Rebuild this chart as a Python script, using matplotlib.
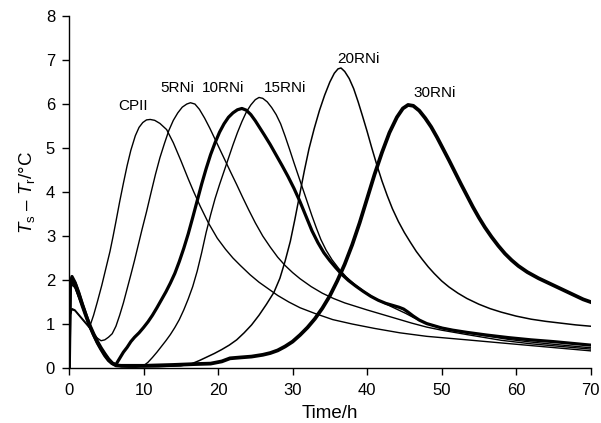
import matplotlib
matplotlib.use("Agg")
import matplotlib.pyplot as plt

plt.rcParams['font.family'] = ['Liberation Sans', 'DejaVu Sans']
plt.rcParams['mathtext.fontset'] = 'custom'
plt.rcParams['mathtext.rm'] = 'Liberation Sans'
plt.rcParams['mathtext.it'] = 'Liberation Sans:italic'

# Temperature difference Ts - Tr (°C) versus hydration time (h)
cpii_t = [0.0, 0.15, 0.4, 0.8, 1.3, 1.8, 2.3, 2.8, 3.3, 3.8, 4.4, 5.0, 5.5, 5.9, 6.3, 6.8,
          7.3, 7.8, 8.3, 8.9, 9.4, 9.9, 10.4, 10.9, 11.5, 12.2, 13.1, 14.0, 15.0, 16.0, 16.7,
          17.6, 18.7, 19.9, 21.0, 22.0, 23.0, 24.3, 25.5, 26.5, 28.0, 29.5, 31.0, 33.0, 35.4,
          38.0, 41.0, 44.4, 48.0, 53.4, 58.0, 62.0, 66.0, 70.0]
cpii_y = [0.0, 1.2, 1.35, 1.32, 1.22, 1.12, 1.02, 0.95, 1.2, 1.5, 1.88, 2.3, 2.65, 2.98,
          3.33, 3.78, 4.2, 4.6, 4.95, 5.28, 5.47, 5.58, 5.64, 5.65, 5.63, 5.56, 5.42, 5.12,
          4.72, 4.3, 4.02, 3.68, 3.3, 2.95, 2.7, 2.5, 2.33, 2.12, 1.95, 1.83, 1.65, 1.5, 1.37,
          1.24, 1.1, 1.0, 0.9, 0.8, 0.72, 0.64, 0.57, 0.51, 0.45, 0.39]

rni5_t = [0.0, 0.15, 0.4, 0.8, 1.3, 1.8, 2.3, 2.8, 3.3, 3.8, 4.3, 4.8, 5.3, 5.8, 6.3, 6.8,
          7.3, 7.8, 8.3, 8.8, 9.3, 9.8, 10.4, 11.0, 11.6, 12.2, 12.8, 13.4, 14.0, 14.6, 15.2,
          15.8, 16.3, 16.9, 17.5, 18.2, 18.9, 19.6, 20.3, 21.0, 21.7, 22.5, 23.3, 24.1, 25.0,
          26.0, 27.0, 28.0, 29.0, 30.0, 31.0, 32.5, 34.0, 35.5, 37.0, 38.5, 40.0, 42.0, 44.4,
          46.0, 48.0, 50.0, 53.4, 58.0, 62.0, 66.0, 70.0]
rni5_y = [0.0, 1.2, 1.33, 1.3, 1.2, 1.1, 1.0, 0.9, 0.78, 0.68, 0.62, 0.64, 0.7, 0.78, 0.95,
          1.2, 1.48, 1.8, 2.12, 2.45, 2.8, 3.15, 3.55, 3.98, 4.4, 4.78, 5.1, 5.4, 5.63, 5.8,
          5.93, 6.0, 6.03, 6.0, 5.88, 5.68, 5.45, 5.2, 4.95, 4.7, 4.45, 4.17, 3.88, 3.6, 3.3,
          3.0, 2.75, 2.52, 2.33, 2.17, 2.03, 1.85, 1.7, 1.58, 1.48, 1.4, 1.32, 1.22, 1.1,
          1.02, 0.93, 0.86, 0.76, 0.63, 0.55, 0.49, 0.43]

rni10_t = [0.0, 0.15, 0.4, 0.8, 1.3, 1.8, 2.3, 2.8, 3.3, 3.8, 4.3, 4.8, 5.3, 5.8, 6.3, 6.8,
           7.3, 7.8, 8.3, 8.8, 9.4, 10.0, 10.6, 11.2, 11.8, 12.4, 13.0, 13.6, 14.2, 14.8, 15.4,
           16.0, 16.6, 17.2, 17.8, 18.4, 19.0, 19.6, 20.2, 20.8, 21.4, 22.0, 22.6, 23.2, 23.8,
           24.4, 25.0, 25.6, 26.2, 27.0, 27.8, 28.6, 29.4, 30.2, 31.0, 31.8, 32.6, 33.4, 34.2,
           35.0, 35.8, 36.6, 37.5, 38.5, 39.5, 40.5, 41.5, 42.5, 43.5, 44.3, 44.9, 45.5, 46.2,
           47.0, 48.0, 49.0, 50.0, 51.5, 53.4, 56.0, 59.0, 62.0, 65.0, 67.5, 70.0]
rni10_y = [0.0, 1.9, 2.08, 1.95, 1.72, 1.45, 1.2, 0.95, 0.75, 0.57, 0.42, 0.28, 0.17, 0.1,
           0.08, 0.22, 0.36, 0.47, 0.6, 0.7, 0.8, 0.92, 1.05, 1.2, 1.37, 1.55, 1.73, 1.93,
           2.15, 2.42, 2.72, 3.05, 3.42, 3.8, 4.18, 4.53, 4.85, 5.12, 5.36, 5.55, 5.7, 5.8,
           5.87, 5.9, 5.86, 5.76, 5.62, 5.46, 5.3, 5.08, 4.84, 4.6, 4.35, 4.08, 3.78, 3.45,
           3.12, 2.85, 2.62, 2.44, 2.28, 2.13, 1.99, 1.86, 1.74, 1.63, 1.54, 1.47, 1.42, 1.38,
           1.34, 1.27, 1.18, 1.09, 1.01, 0.96, 0.91, 0.86, 0.81, 0.75, 0.69, 0.64, 0.6, 0.56,
           0.52]

rni15_t = [0.0, 0.15, 0.4, 0.8, 1.3, 1.8, 2.3, 2.8, 3.3, 3.8, 4.3, 4.8, 5.3, 5.8, 6.3, 7.0,
           8.0, 9.0, 10.0, 10.6, 11.2, 11.8, 12.4, 13.0, 13.6, 14.2, 14.8, 15.4, 16.0, 16.6,
           17.2, 17.8, 18.4, 19.0, 19.6, 20.2, 20.8, 21.4, 22.0, 22.6, 23.2, 23.8, 24.4, 25.0,
           25.5, 26.0, 26.6, 27.2, 27.8, 28.4, 29.0, 29.6, 30.2, 30.8, 31.4, 32.0, 32.6, 33.2,
           33.8, 34.5, 35.3, 36.2, 37.2, 38.2, 39.2, 40.2, 41.2, 42.2, 43.2, 44.2, 45.2, 46.2,
           47.2, 48.2, 49.5, 51.0, 53.4, 56.0, 59.0, 62.0, 65.0, 67.5, 70.0]
rni15_y = [0.0, 1.7, 1.9, 1.82, 1.6, 1.38, 1.15, 0.95, 0.77, 0.6, 0.45, 0.32, 0.2, 0.11,
           0.06, 0.03, 0.02, 0.02, 0.05, 0.13, 0.24, 0.36, 0.49, 0.62, 0.76, 0.92, 1.1, 1.32,
           1.57, 1.85, 2.2, 2.62, 3.08, 3.48, 3.85, 4.17, 4.47, 4.77, 5.07, 5.35, 5.6, 5.82,
           5.98, 6.1, 6.15, 6.13, 6.05, 5.92, 5.76, 5.55, 5.27, 4.97, 4.66, 4.36, 4.06, 3.76,
           3.46, 3.18, 2.92, 2.68, 2.46, 2.26, 2.07, 1.92, 1.79, 1.67, 1.57, 1.48, 1.4, 1.32,
           1.24, 1.15, 1.07, 1.0, 0.94, 0.88, 0.8, 0.73, 0.65, 0.59, 0.54, 0.5, 0.46]

rni20_t = [0.0, 0.15, 0.4, 0.8, 1.3, 1.8, 2.3, 2.8, 3.3, 3.8, 4.3, 4.8, 5.3, 5.8, 6.3, 7.0,
           9.0, 12.0, 15.0, 16.5, 17.5, 18.5, 19.5, 20.5, 21.5, 22.5, 23.5, 24.5, 25.5, 26.5,
           27.5, 28.3, 29.0, 29.7, 30.3, 31.0, 31.6, 32.2, 32.9, 33.6, 34.3, 35.0, 35.6, 36.1,
           36.5, 37.0, 37.6, 38.2, 38.8, 39.4, 40.0, 40.6, 41.3, 42.0, 42.7, 43.4, 44.2, 45.0,
           45.8, 46.6, 47.4, 48.2, 49.0, 50.0, 51.0, 52.2, 53.4, 55.0, 56.5, 58.0, 60.0, 62.0,
           64.0, 66.0, 68.0, 70.0]
rni20_y = [0.0, 1.8, 1.95, 1.85, 1.62, 1.4, 1.17, 0.97, 0.78, 0.62, 0.47, 0.34, 0.22, 0.13,
           0.07, 0.04, 0.03, 0.03, 0.05, 0.1, 0.17, 0.25, 0.33, 0.42, 0.52, 0.64, 0.8, 0.98,
           1.2, 1.45, 1.72, 2.04, 2.43, 2.88, 3.37, 3.98, 4.5, 4.98, 5.44, 5.85, 6.2, 6.5, 6.7,
           6.8, 6.82, 6.74, 6.58, 6.35, 6.05, 5.72, 5.38, 5.02, 4.62, 4.25, 3.92, 3.62, 3.33,
           3.08, 2.86, 2.65, 2.47, 2.3, 2.15, 1.98, 1.84, 1.7, 1.58, 1.45, 1.35, 1.27, 1.18,
           1.11, 1.06, 1.02, 0.98, 0.95]

rni30_t = [0.0, 0.15, 0.4, 0.8, 1.3, 1.8, 2.3, 2.8, 3.3, 3.8, 4.3, 4.8, 5.3, 5.8, 6.3, 7.0,
           10.0, 14.0, 17.0, 19.0, 20.5, 21.6, 23.0, 24.5, 26.0, 27.0, 28.0, 29.0, 30.0, 31.0,
           32.0, 33.0, 34.0, 35.0, 36.0, 37.0, 38.0, 39.0, 40.0, 41.0, 42.0, 43.0, 44.0, 44.8,
           45.5, 46.2, 47.0, 47.8, 48.6, 49.4, 50.2, 51.0, 51.8, 52.6, 53.4, 54.2, 55.0, 55.8,
           56.7, 57.6, 58.5, 59.4, 60.3, 61.5, 63.0, 64.5, 66.0, 67.5, 69.0, 70.0]
rni30_y = [0.0, 1.85, 2.02, 1.92, 1.68, 1.42, 1.18, 0.96, 0.77, 0.6, 0.45, 0.32, 0.2, 0.11,
           0.06, 0.05, 0.05, 0.07, 0.09, 0.1, 0.15, 0.22, 0.24, 0.26, 0.3, 0.34, 0.4, 0.49,
           0.6, 0.75, 0.92, 1.12, 1.36, 1.64, 1.98, 2.36, 2.8, 3.3, 3.85, 4.4, 4.9, 5.35, 5.7,
           5.9, 5.98, 5.96, 5.85, 5.68, 5.48, 5.24, 4.98, 4.72, 4.45, 4.18, 3.92, 3.66, 3.42,
           3.2, 2.98, 2.78, 2.6, 2.45, 2.32, 2.18, 2.04, 1.92, 1.8, 1.68, 1.56, 1.5]

series = [
    ("CPII", cpii_t, cpii_y, 1.0),
    ("5RNi", rni5_t, rni5_y, 1.0),
    ("10RNi", rni10_t, rni10_y, 2.3),
    ("15RNi", rni15_t, rni15_y, 1.0),
    ("20RNi", rni20_t, rni20_y, 1.1),
    ("30RNi", rni30_t, rni30_y, 2.7),
]

label_names = ["CPII", "5RNi", "10RNi", "15RNi", "20RNi", "30RNi"]
label_x = [8.6, 14.5, 20.7, 29.0, 38.9, 49.1]
label_y = [5.95, 6.36, 6.36, 6.36, 7.02, 6.25]

fig = plt.figure(figsize=(6.01, 4.23), dpi=100)
ax = fig.add_axes([0.1148, 0.130, 0.868, 0.832])

for name, t, y, lw in series:
    ax.plot(t, y, color='black', lw=lw, solid_joinstyle='round')

for name, lx, ly in zip(label_names, label_x, label_y):
    ax.text(lx, ly, name, ha='center', va='center', fontsize=11)

ax.set_xlim(0, 70)
ax.set_ylim(0, 8)
ax.set_xticks(range(0, 71, 10))
ax.set_yticks(range(0, 9))
ax.spines['top'].set_visible(False)
ax.spines['right'].set_visible(False)
for s in ('left', 'bottom'):
    ax.spines[s].set_linewidth(1.0)
ax.tick_params(direction='out', length=5, width=1.0, labelsize=12)
ax.tick_params(axis='x', pad=6)
ax.tick_params(axis='y', pad=5)
ax.set_xlabel('Time/h', fontsize=13.5, labelpad=5)
ax.set_ylabel(r'$T_\mathrm{s}$ – $T_\mathrm{r}$/°C', fontsize=13.5, labelpad=6)

fig.savefig('out.png', dpi=100)
